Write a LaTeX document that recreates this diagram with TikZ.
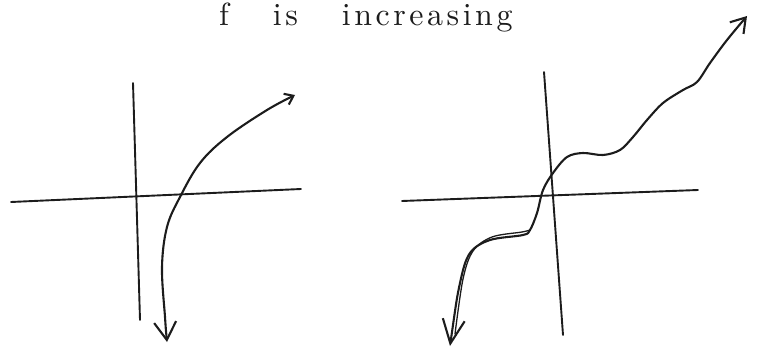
\documentclass[tikz,border=0pt]{standalone}
\usepackage{fontspec}
\newfontfamily\handfont[LetterSpace=11, WordSpace=3.1]{lmroman10-regular.otf}
\usepackage{xcolor}
\usepackage{tikz}
\usetikzlibrary{arrows.meta}
\definecolor{pencil}{RGB}{28, 28, 28}

\begin{document}
\begin{tikzpicture}[
    x=1pt, y=1pt,
    axis/.style={pencil, line width=1.9pt, line cap=round},
    curve/.style={pencil, line width=2.1pt, line cap=round, line join=round},
    title/.style={anchor=base west, inner sep=0pt, text=pencil,
        font=\handfont\fontsize{32}{34}\selectfont}
]
    \useasboundingbox (0,0) rectangle (759,354);

    % Title
    \node[title] (title) at (219,328) {f is increasing};

    % Left graph
    \coordinate (lx1) at (11,152);
    \coordinate (lx2) at (301,165);
    \coordinate (ly1) at (133,271);
    \coordinate (ly2) at (140,34);
    \draw[axis] (lx1) -- (lx2);
    \draw[axis] (ly1) -- (ly2);
    \draw[curve, {Straight Barb[length=18pt, width=22pt]}-{Straight Barb[length=8pt, width=12pt]}]
        plot[smooth, tension=0.6] coordinates {(167,12) (165,37) (162,87) (167,127) (180,157)
            (200,191) (227,217) (267,244) (295,259)};

    % Right graph
    \coordinate (rx1) at (402,153);
    \coordinate (rx2) at (698,164);
    \coordinate (ry1) at (544,282);
    \coordinate (ry2) at (563,19);
    \draw[axis] (rx1) -- (rx2);
    \draw[axis] (ry1) -- (ry2);
    \draw[curve, {Straight Barb[length=24pt, width=22pt]}-{Straight Barb[length=14pt, width=18pt]}]
        plot[smooth, tension=0.55] coordinates {(450,8) (460,71) (470,101) (490,114) (523,119)
            (530,124) (537,141) (543,164) (553,181) (567,197) (583,201) (603,199) (620,204)
            (633,217) (647,234) (663,251) (683,264) (697,272) (710,291) (727,314) (747,338)};
    % second stroke
    \draw[curve, line width=1.3pt]
        plot[smooth, tension=0.55] coordinates {(455,20) (463,75) (473,103) (492,117) (522,122) (530,124)};
\end{tikzpicture}
\end{document}
